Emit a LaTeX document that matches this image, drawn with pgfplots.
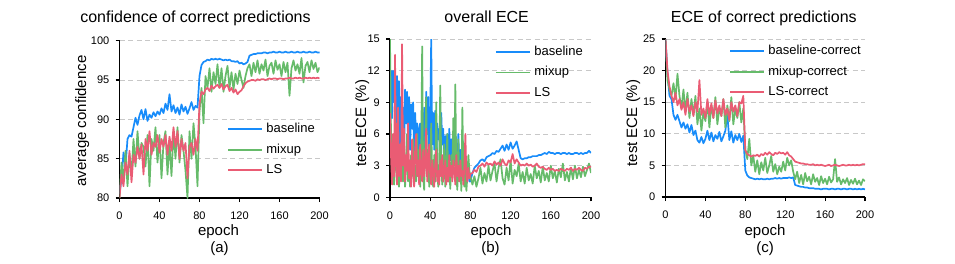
\documentclass[border=0pt]{standalone}
\usepackage{fontspec}
\setmainfont{Liberation Sans}
\usepackage{pgfplots}
\usepackage{pgfplotstable}
\pgfplotsset{compat=1.18}
\definecolor{serBlue}{RGB}{24,140,250}
\definecolor{serGreen}{RGB}{102,187,106}
\definecolor{serRed}{RGB}{234,92,116}
\definecolor{gridc}{RGB}{200,200,200}

\pgfplotstableread{
x base mix ls
0 80.5 80.0 80.0
2 82.5 84.5 83.0
4 85.8 82.0 81.5
6 84.0 86.0 84.5
8 87.5 81.5 83.0
10 88.0 85.5 86.0
12 87.8 83.0 82.0
14 89.0 87.5 85.5
16 90.2 84.0 84.5
18 89.3 88.5 86.5
20 90.5 85.0 85.0
22 91.2 87.0 86.8
24 90.0 86.5 83.0
26 91.3 84.0 87.5
28 89.8 88.0 86.0
30 90.6 81.5 88.5
32 90.2 87.5 85.5
34 90.9 86.0 87.0
36 90.4 89.0 86.5
38 91.0 84.5 88.0
40 90.6 88.0 85.8
42 91.4 82.5 87.5
44 90.8 87.0 86.5
46 92.0 88.5 88.0
48 91.2 83.0 85.5
50 93.2 87.0 87.8
52 91.0 82.8 86.0
54 91.8 88.5 89.0
56 90.8 85.0 86.5
58 91.5 89.0 88.5
60 90.6 84.5 85.0
62 91.9 88.0 87.5
64 91.0 86.0 86.0
66 91.6 83.5 87.0
68 90.7 80.0 82.5
70 91.4 88.5 86.5
72 92.2 85.0 87.0
74 91.2 89.5 85.5
76 91.7 86.5 87.5
78 91.5 81.5 86.0
80 95.5 91.0 92.0
82 96.9 94.0 93.5
84 97.3 89.5 93.2
86 97.4 95.5 93.8
88 97.6 94.0 94.0
90 97.5 96.5 93.6
92 97.7 93.5 94.3
94 97.6 96.0 93.9
96 97.7 94.5 94.2
98 97.6 97.0 94.4
100 97.7 94.0 94.0
102 97.6 96.5 94.5
104 97.5 93.5 93.8
106 97.6 95.5 94.2
108 97.5 96.8 94.4
110 97.6 94.0 93.6
112 97.4 96.0 94.0
114 97.4 93.8 93.4
116 97.3 95.8 93.8
118 97.4 94.5 93.2
120 97.1 96.2 93.5
122 97.2 95.0 93.7
124 97.0 94.0 94.2
126 97.1 95.5 94.6
128 97.3 96.5 94.8
130 98.1 97.0 94.9
132 98.2 95.5 95.0
134 98.3 97.2 95.0
136 98.3 96.0 94.9
138 98.4 97.5 95.1
140 98.4 95.8 95.0
142 98.4 97.0 95.1
144 98.5 96.2 95.1
146 98.5 97.6 95.0
148 98.4 95.5 95.1
150 98.5 96.8 95.2
152 98.5 97.2 95.1
154 98.6 95.8 95.2
156 98.5 97.5 95.2
158 98.5 96.3 95.1
160 98.6 97.0 95.2
162 98.5 95.5 95.2
164 98.5 97.3 95.1
166 98.6 96.0 95.2
168 98.5 97.2 95.2
170 98.5 93.0 95.3
172 98.6 96.5 95.2
174 98.5 97.5 95.2
176 98.5 96.2 95.3
178 98.6 97.0 95.2
180 98.5 95.8 95.3
182 98.5 97.8 95.2
184 98.6 94.7 95.2
186 98.5 96.8 95.3
188 98.5 97.3 95.2
190 98.6 96.0 95.3
192 98.5 97.5 95.2
194 98.5 96.4 95.3
196 98.6 97.2 95.2
198 98.5 96.0 95.3
200 98.5 96.6 95.2
}\tabA

\pgfplotstableread{
x base mix ls
0 5.0 15.0 8.0
1 12.0 6.0 4.0
2 7.5 2.0 1.2
3 12.0 5.5 6.0
4 9.0 1.2 2.0
5 11.8 3.0 13.5
6 6.5 7.0 3.0
7 11.5 1.5 1.2
8 8.0 4.0 8.5
9 11.0 1.0 2.0
10 4.5 3.5 5.0
11 9.5 2.0 1.5
12 6.0 5.0 14.5
13 8.5 1.5 3.0
14 4.0 4.5 6.5
15 10.2 1.0 1.5
16 7.0 3.0 4.0
17 10.0 6.0 2.5
18 5.0 1.5 7.0
19 9.5 3.5 1.8
20 4.5 1.0 3.5
21 8.8 4.0 1.0
22 6.5 2.0 5.5
23 9.0 5.5 2.5
24 3.5 1.2 1.0
25 8.0 3.0 4.5
26 5.5 1.5 6.0
27 7.0 6.0 2.0
28 3.0 2.0 3.5
29 6.5 4.5 1.2
30 7.0 1.0 5.0
31 3.5 3.5 2.5
32 5.5 14.3 1.5
33 2.5 2.0 4.5
34 8.5 0.7 2.0
35 4.0 5.0 3.0
36 10.0 9.5 6.5
37 6.0 2.5 1.5
38 9.5 4.5 3.0
39 3.5 1.0 5.0
40 7.5 3.0 2.0
41 15.0 7.0 1.2
42 5.0 2.0 3.5
43 8.0 1.0 2.5
44 4.5 4.0 1.0
45 8.2 1.5 3.0
46 3.0 9.0 4.5
47 7.0 2.5 1.5
48 5.5 1.0 2.5
49 6.5 3.5 1.2
50 3.0 10.6 3.5
51 8.0 3.0 2.0
52 5.0 1.2 4.0
53 6.5 2.5 1.5
54 2.5 5.0 2.5
55 5.8 1.0 3.5
56 4.0 3.0 1.2
57 6.0 6.0 2.8
58 2.8 1.5 1.5
59 6.5 2.5 4.0
60 3.5 0.8 2.0
61 5.5 4.0 3.0
62 2.0 2.0 1.5
63 4.5 7.5 3.5
64 6.5 3.0 2.5
65 3.5 10.7 1.2
66 5.0 2.0 4.0
67 2.5 0.7 2.0
68 6.0 5.5 3.0
69 3.0 1.5 1.5
70 4.5 3.0 3.5
71 2.0 0.6 2.0
72 5.5 8.5 2.5
73 3.0 2.5 1.2
74 4.8 1.0 3.0
75 2.5 3.5 6.0
76 3.5 0.6 2.0
77 2.0 2.0 1.5
78 3.0 4.0 2.8
79 1.5 2.5 1.8
80 1.5 2.0 2.2
82 2.3 1.2 2.3
84 2.8 2.0 2.6
86 3.0 1.0 2.4
88 3.2 1.8 2.9
90 3.5 2.8 3.0
92 3.6 1.3 3.2
94 3.4 2.3 2.9
96 3.8 1.5 3.3
98 3.9 3.0 3.1
100 4.0 1.6 3.2
102 4.2 2.5 3.0
104 4.1 3.2 3.4
106 4.4 1.5 3.1
108 4.3 2.8 3.3
110 4.6 3.6 3.0
112 4.9 1.8 3.6
114 4.4 1.2 3.2
116 5.0 2.8 3.0
118 4.5 1.6 3.5
120 5.2 3.5 3.3
122 4.6 1.3 4.1
124 4.9 2.6 3.2
126 5.3 2.0 3.6
128 4.5 3.2 3.3
130 3.7 1.5 3.0
132 3.6 2.4 3.1
134 3.7 1.3 3.0
136 3.7 2.8 3.2
138 3.8 1.6 3.0
140 3.8 2.2 3.1
142 3.9 1.3 2.9
144 3.9 3.0 3.0
146 3.9 1.8 3.2
148 4.0 2.5 2.9
150 4.0 1.4 2.8
152 4.1 2.9 2.9
154 4.2 1.6 2.7
156 4.1 2.3 2.6
158 4.3 1.5 2.8
160 4.2 3.0 2.6
162 4.2 1.8 2.7
164 4.1 2.5 2.5
166 4.2 1.4 2.6
168 4.2 2.7 2.5
170 4.1 1.9 2.7
172 4.2 3.2 2.6
174 4.2 1.6 2.5
176 4.1 2.4 2.7
178 4.2 1.5 2.6
180 4.1 2.8 2.8
182 4.1 1.7 2.5
184 4.2 3.0 2.7
186 4.2 1.8 2.6
188 4.1 2.6 2.8
190 4.2 1.9 2.6
192 4.1 2.9 2.5
194 4.2 2.0 2.8
196 4.2 2.6 2.7
198 4.4 3.2 2.9
200 4.2 2.3 2.9
}\tabB

\pgfplotstableread{
x base mix ls
0 25.0 25.0 25.0
2 19.5 18.5 20.0
4 16.0 17.0 17.5
6 15.5 16.0 16.0
8 13.0 18.0 15.0
10 12.2 15.5 16.5
12 13.0 19.5 14.5
14 12.0 16.0 15.5
16 11.0 14.0 13.8
18 11.8 17.0 15.0
20 10.8 13.5 13.0
22 11.5 16.5 15.5
24 10.2 12.5 13.5
26 11.4 15.5 14.5
28 9.8 13.0 12.8
30 10.5 16.0 15.0
32 9.0 11.5 13.5
34 8.6 14.0 18.5
36 9.5 10.5 13.0
38 8.5 13.5 14.0
40 9.2 12.0 12.5
42 10.5 15.0 15.5
44 9.0 11.0 13.0
46 10.2 14.5 14.8
48 8.8 12.5 12.5
50 9.8 15.8 15.3
52 9.2 11.5 13.2
54 10.3 14.0 14.5
56 8.8 12.8 12.8
58 9.6 15.5 15.5
60 10.5 11.0 13.0
62 13.0 14.5 14.0
64 9.0 12.0 12.2
66 10.4 15.8 15.0
68 8.6 11.5 13.5
70 9.8 14.0 14.5
72 9.0 12.5 12.8
74 10.0 15.0 15.0
76 8.7 11.8 14.8
78 9.7 14.0 16.0
80 4.2 7.5 7.4
82 3.4 6.0 6.8
84 3.1 9.2 6.6
86 3.0 5.0 6.4
88 2.9 6.5 6.6
90 2.8 4.0 6.5
92 2.9 5.8 6.7
94 2.8 3.6 6.4
96 2.9 5.5 6.8
98 2.8 4.2 6.6
100 2.8 6.2 7.0
102 2.9 3.8 6.7
104 2.8 5.0 7.1
106 2.9 6.5 6.8
108 2.9 4.0 6.6
110 3.0 5.2 7.0
112 2.9 3.6 6.8
114 3.0 4.8 7.1
116 2.9 4.0 6.9
118 3.0 5.6 7.0
120 3.0 4.2 6.7
122 3.0 6.2 7.1
124 3.1 5.0 6.6
126 3.0 5.8 6.4
128 3.1 4.0 6.0
130 1.9 2.8 5.6
132 1.8 4.0 5.5
134 1.7 2.2 5.4
136 1.6 3.5 5.3
138 1.6 2.0 5.3
140 1.5 3.8 5.2
142 1.5 2.5 5.2
144 1.4 3.2 5.1
146 1.4 2.0 5.1
148 1.4 3.6 5.2
150 1.3 2.4 5.0
152 1.3 3.0 5.1
154 1.3 1.9 5.0
156 1.2 3.3 5.1
158 1.3 2.2 5.0
160 1.3 2.9 4.9
162 1.3 2.0 5.0
164 1.2 3.2 5.1
166 1.3 2.3 4.9
168 1.3 2.8 5.0
170 1.2 6.0 5.1
172 1.3 2.4 5.0
174 1.3 3.1 4.9
176 1.2 2.0 5.0
178 1.3 2.8 5.1
180 1.3 2.2 5.0
182 1.2 3.0 5.0
184 1.3 1.9 5.1
186 1.3 2.7 5.0
188 1.2 2.1 5.1
190 1.3 2.9 5.0
192 1.2 2.0 5.1
194 1.3 2.6 5.0
196 1.2 1.9 5.1
198 1.3 2.8 5.2
200 1.2 2.5 5.2
}\tabC

\pgfplotsset{
  panel/.style={
    scale only axis, width=200pt, height=158pt, anchor=south west,
    xmin=0, xmax=200, xtick={0,40,...,200},
    axis x line=bottom, axis y line=left,
    axis line style={-, line width=1.4pt, black},
    tick align=outside, major tick length=4pt,
    every tick/.style={black, line width=1.2pt},
    ymajorgrids,
    major grid style={gridc, line width=0.9pt, dash pattern=on 5pt off 3.5pt},
    tick label style={font=\fontsize{11}{13}\selectfont},
    xticklabel style={anchor=north, inner sep=0pt, yshift=-10pt},
    yticklabel style={anchor=east, inner sep=0pt, xshift=-6pt},
    /pgf/number format/assume math mode=true,
    legend cell align=left,
    legend style={draw=none, fill=none, inner sep=0pt, anchor=north west,
      font=\fontsize{13}{15}\selectfont, row sep=8.5pt, column sep=3.5pt,
      nodes={inner sep=0pt, text height=9.5pt, text depth=2.5pt}},
    legend image code/.code={\draw[##1, line width=1.7pt] (0pt,0pt) -- (34pt,0pt);},
  },
  sB/.style={draw=serBlue, line width=1.7pt, line join=round, mark=none},
  sG/.style={draw=serGreen, line width=1.7pt, line join=round, mark=none},
  sR/.style={draw=serRed, line width=1.7pt, line join=round, mark=none},
}

\begin{document}
\begin{tikzpicture}
\useasboundingbox (0,0) rectangle (955pt,263pt);

\begin{axis}[panel, at={(119.5pt,65pt)}, height=157.3pt,
  ymin=80, ymax=100, ytick={80,85,...,100},
  legend style={at={(0.5375,0.4768)}}]
\addplot[sB] table[x=x, y=base] {\tabA};
\addplot[sG] table[x=x, y=mix] {\tabA};
\addplot[sR] table[x=x, y=ls] {\tabA};
\legend{baseline, mixup, LS}
\end{axis}

\begin{axis}[panel, at={(390pt,65.7pt)}, width=201pt, height=158.3pt,
  ymin=0, ymax=15, ytick={0,3,...,15},
  legend style={at={(0.522,0.9577)}}]
\addplot[sB] table[x=x, y=base] {\tabB};
\addplot[sG] table[x=x, y=mix] {\tabB};
\addplot[sR] table[x=x, y=ls] {\tabB};
\legend{baseline, mixup, LS}
\end{axis}

\begin{axis}[panel, at={(665.5pt,66pt)}, width=199.5pt, height=158pt,
  ymin=0, ymax=25, ytick={0,5,...,25},
  legend style={at={(0.318,0.962)}}]
\addplot[sB] table[x=x, y=base] {\tabC};
\addplot[sG] table[x=x, y=mix] {\tabC};
\addplot[sR] table[x=x, y=ls] {\tabC};
\legend{baseline-correct, mixup-correct, LS-correct}
\end{axis}

\begin{scope}[every node/.style={inner sep=0pt}]
\node[anchor=base, font=\fontsize{16}{18}\selectfont] at (195.5pt,240.3pt) {confidence of correct predictions};
\node[anchor=base, font=\fontsize{16}{18}\selectfont] at (486.7pt,240.3pt) {overall ECE};
\node[anchor=base, font=\fontsize{16}{18}\selectfont] at (763.8pt,240.3pt) {ECE of correct predictions};
\node[anchor=base, font=\fontsize{15}{17}\selectfont] at (218.5pt,28pt) {epoch};
\node[anchor=base, font=\fontsize{15}{17}\selectfont] at (491pt,28pt) {epoch};
\node[anchor=base, font=\fontsize{15}{17}\selectfont] at (765pt,28pt) {epoch};
\node[anchor=base, font=\fontsize{15}{17}\selectfont] at (219.5pt,10.5pt) {(a)};
\node[anchor=base, font=\fontsize{15}{17}\selectfont] at (490.5pt,10.5pt) {(b)};
\node[anchor=base, font=\fontsize{15}{17}\selectfont] at (765pt,10.5pt) {(c)};
\node[anchor=base, rotate=90, font=\fontsize{15}{17}\selectfont] at (86pt,142pt) {average confidence};
\node[anchor=base, rotate=90, font=\fontsize{15}{17}\selectfont] at (366pt,140pt) {test ECE (\%)};
\node[anchor=base, rotate=90, font=\fontsize{15}{17}\selectfont] at (637pt,140pt) {test ECE (\%)};
\end{scope}
\end{tikzpicture}
\end{document}
